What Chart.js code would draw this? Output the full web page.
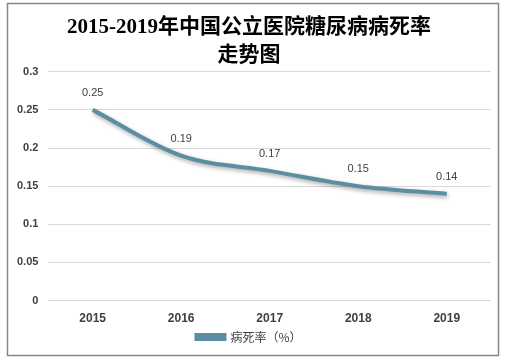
<!DOCTYPE html>
<html>
<head>
<meta charset="utf-8">
<script src="https://cdn.jsdelivr.net/npm/chart.js@4.4.0/dist/chart.umd.min.js"></script>
<style>
  html, body { margin: 0; padding: 0; background: #fff; }
  #wrap { position: relative; width: 505px; height: 360px; }
</style>
</head>
<body>
<div id="wrap"><canvas id="chart" width="505" height="360"></canvas></div>
<script>
// Data
const years = ['2015', '2016', '2017', '2018', '2019'];
const rates = [0.25, 0.19, 0.17, 0.15, 0.14];
const yTickValues = [0, 0.05, 0.1, 0.15, 0.2, 0.25, 0.3];
const titleLines = ['2015-2019年中国公立医院糖尿病病死率', '走势图'];
const seriesName = '病死率（%）';

const lineColor = '#5b8ea3';

// outer grey frame
const framePlugin = {
  id: 'frame',
  beforeDraw(chart) {
    const ctx = chart.ctx;
    ctx.save();
    ctx.fillStyle = '#fff';
    ctx.fillRect(0, 0, chart.width, chart.height);
    ctx.strokeStyle = '#868686';
    ctx.lineWidth = 1.5;
    ctx.strokeRect(7.5, 3.5, 491, 352);
    ctx.restore();
  }
};

// soft shadow under the line
const shadowPlugin = {
  id: 'lineShadow',
  beforeDatasetDraw(chart) {
    const ctx = chart.ctx;
    ctx.save();
    ctx.shadowColor = 'rgba(0,0,0,0.35)';
    ctx.shadowBlur = 4;
    ctx.shadowOffsetX = 1;
    ctx.shadowOffsetY = 2;
  },
  afterDatasetDraw(chart) {
    chart.ctx.restore();
  }
};

// value labels above each point
const valueLabels = {
  id: 'valueLabels',
  afterDatasetsDraw(chart) {
    const ctx = chart.ctx;
    const meta = chart.getDatasetMeta(0);
    ctx.save();
    ctx.font = '11px "Liberation Sans", "DejaVu Sans", sans-serif';
    ctx.fillStyle = '#404040';
    ctx.textAlign = 'center';
    ctx.textBaseline = 'middle';
    meta.data.forEach((pt, i) => {
      ctx.fillText(String(rates[i]), pt.x, pt.y - 17);
    });
    ctx.restore();
  }
};

new Chart(document.getElementById('chart'), {
  type: 'line',
  data: {
    labels: years,
    datasets: [{
      label: seriesName,
      data: rates,
      borderColor: lineColor,
      backgroundColor: lineColor,
      borderWidth: 4,
      tension: 0.4,
      cubicInterpolationMode: 'monotone',
      pointRadius: 0,
      fill: false
    }]
  },
  options: {
    responsive: false,
    animation: false,
    devicePixelRatio: 1,
    layout: { padding: { left: 7, right: 14, top: 2, bottom: 7 } },
    plugins: {
      title: {
        display: true,
        text: titleLines,
        color: '#000',
        font: { family: '"Liberation Serif", "DejaVu Serif", "Noto Sans CJK SC", serif', size: 21, weight: 'bold', lineHeight: 1.35 },
        padding: { top: 11, bottom: 2 }
      },
      legend: {
        position: 'bottom',
        labels: {
          boxWidth: 28,
          boxHeight: 4,
          color: '#404040',
          font: { family: '"Noto Sans CJK SC", sans-serif', size: 12 },
          padding: 2
        }
      },
      tooltip: { enabled: false }
    },
    scales: {
      x: {
        offset: true,
        grid: { display: false },
        border: { display: false },
        ticks: {
          color: '#404040',
          font: { family: '"Liberation Sans", "DejaVu Sans", sans-serif', size: 12, weight: 'bold' },
          padding: 3
        }
      },
      y: {
        min: 0,
        max: 0.3,
        afterBuildTicks(axis) {
          axis.ticks = yTickValues.map(v => ({ value: v }));
        },
        grid: { color: '#d9d9d9', lineWidth: 1, drawTicks: false },
        border: { display: false },
        ticks: {
          color: '#404040',
          font: { family: '"Liberation Sans", "DejaVu Sans", sans-serif', size: 11, weight: 'bold' },
          padding: 10,
          callback: v => String(Math.round(v * 100) / 100)
        }
      }
    }
  },
  plugins: [framePlugin, shadowPlugin, valueLabels]
});
</script>
</body>
</html>
